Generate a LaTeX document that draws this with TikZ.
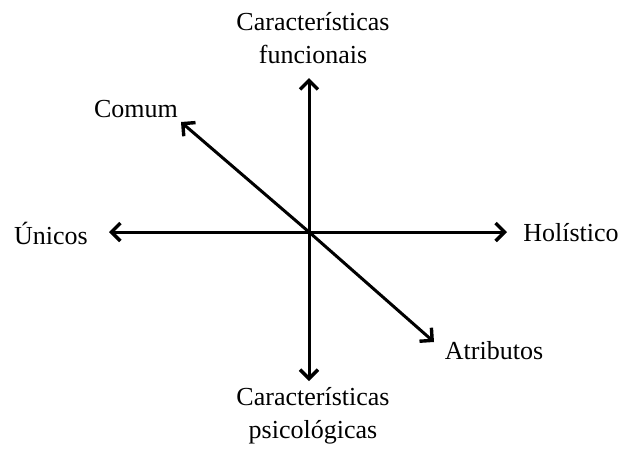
\documentclass[tikz,border=0pt]{standalone}
\usepackage{fontspec}
\setmainfont{Liberation Serif}
\usetikzlibrary{arrows.meta}
\begin{document}
\begin{tikzpicture}[x=1pt,y=-1pt,
  lbl/.style={font=\fontsize{26}{33}\selectfont, align=center, inner sep=0pt, text=black},
  axis/.style={line width=3pt, -{Straight Barb[length=9pt,width=18pt,line width=3.4pt]}}]
\useasboundingbox (0,0) rectangle (624,448);
\coordinate (o) at (309,232);
\coordinate (up) at (309,78);
\coordinate (dn) at (309,381);
\coordinate (lf) at (109,232);
\coordinate (rt) at (507,232);
\coordinate (ul) at (181,122);
\coordinate (lr) at (434,342);
\node[lbl] (tf) at (313,38) {Características\\funcionais};
\node[lbl] (bp) at (313,416) {Características\\psicológicas};
\node[lbl] (un) at (51,233) {Únicos};
\node[lbl] (ho) at (571,233) {Holístico};
\node[lbl] (co) at (136,109) {Comum};
\node[lbl] (at) at (494,351) {Atributos};
\draw[axis] (o) -- (up);
\draw[axis] (o) -- (dn);
\draw[axis] (o) -- (lf);
\draw[axis] (o) -- (rt);
\draw[axis] (o) -- (ul);
\draw[axis] (o) -- (lr);
\end{tikzpicture}
\end{document}
